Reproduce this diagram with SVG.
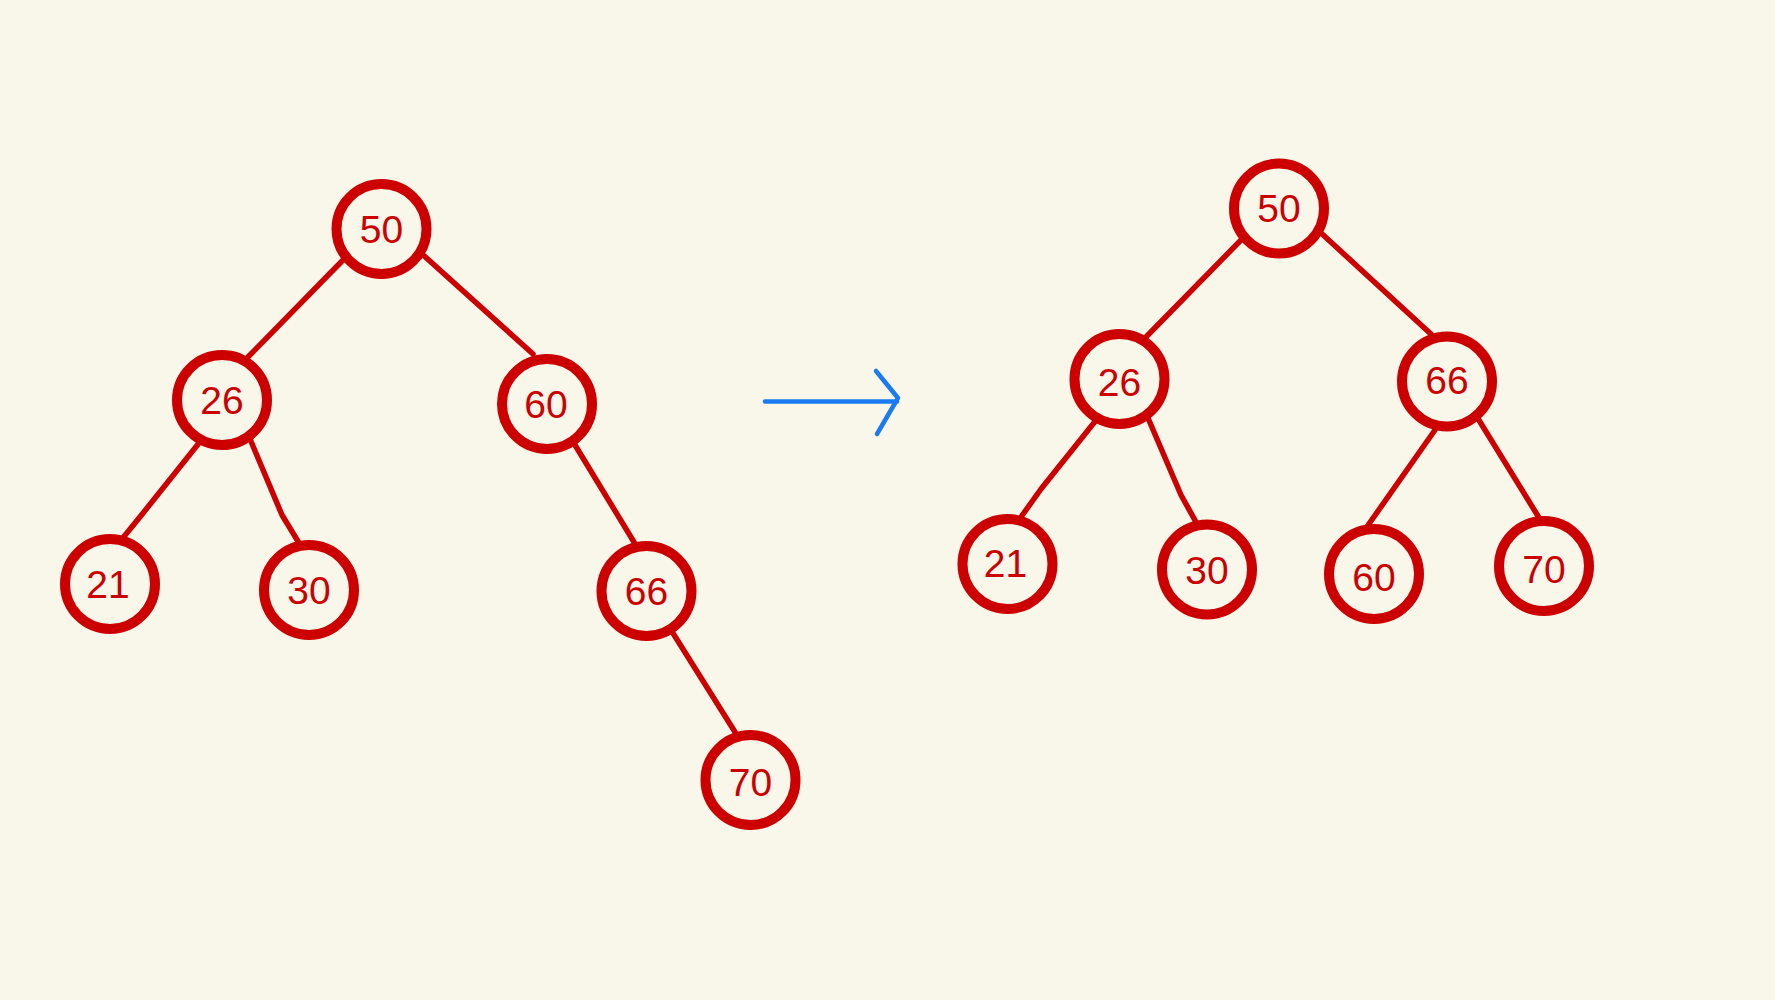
<svg xmlns="http://www.w3.org/2000/svg" width="1775" height="1000" viewBox="0 0 1775 1000">
<style>
.bg{fill:#f9f6ea}
.node circle{fill:#f9f6ea;stroke:#cc0000;stroke-width:10}
.node text{fill:#cc0000;font-family:"Liberation Sans",Arial,sans-serif;font-size:39px;text-anchor:middle}
.edge{fill:none;stroke:#cc0000;stroke-width:5.5;stroke-linecap:round;stroke-linejoin:round}
.arrow{fill:none;stroke:#1a7cf0;stroke-width:4.5;stroke-linecap:round;stroke-linejoin:round}
</style>
<rect class="bg" x="0" y="0" width="1775" height="1000"/>
<g id="connectors">
<polyline class="edge" points="344,259 247,358"/>
<polyline class="edge" points="422,254 533,354"/>
<polyline class="edge" points="199,443 141.5,515 122,539"/>
<polyline class="edge" points="250,439 282,515 299,543"/>
<polyline class="edge" points="575,445 637,547"/>
<polyline class="edge" points="673.5,634 735,732"/>
<polyline class="edge" points="1242,239 1146,337"/>
<polyline class="edge" points="1321,233 1432,335"/>
<polyline class="edge" points="1097,419 1041,489 1021,517"/>
<polyline class="edge" points="1148,418 1181,495 1196.5,523"/>
<polyline class="edge" points="1435,430 1367.5,526"/>
<polyline class="edge" points="1477,417 1539.5,518.5"/>
<g id="transform-arrow">
<line class="arrow" x1="765" y1="401.5" x2="897" y2="401.5"/>
<polyline class="arrow" points="876,371 898,398 877,434"/>
</g>
</g>
<g id="left-50" class="node"><circle cx="381.5" cy="229" r="45"/><text x="381.5" y="243">50</text></g>
<g id="left-26" class="node"><circle cx="222" cy="400" r="45"/><text x="222" y="414">26</text></g>
<g id="left-60" class="node"><circle cx="547" cy="404" r="45"/><text x="546" y="418">60</text></g>
<g id="left-21" class="node"><circle cx="110" cy="584" r="45"/><text x="108" y="598">21</text></g>
<g id="left-30" class="node"><circle cx="309" cy="590" r="45"/><text x="309" y="604">30</text></g>
<g id="left-66" class="node"><circle cx="646.5" cy="591" r="45"/><text x="646.5" y="605">66</text></g>
<g id="left-70" class="node"><circle cx="750.5" cy="780" r="45"/><text x="750.5" y="796">70</text></g>
<g id="right-50" class="node"><circle cx="1279" cy="208.5" r="45"/><text x="1279" y="222">50</text></g>
<g id="right-26" class="node"><circle cx="1119.5" cy="379" r="45"/><text x="1119.5" y="396">26</text></g>
<g id="right-66" class="node"><circle cx="1447" cy="381.5" r="45"/><text x="1447" y="394">66</text></g>
<g id="right-21" class="node"><circle cx="1007.5" cy="564" r="45"/><text x="1005.5" y="577">21</text></g>
<g id="right-30" class="node"><circle cx="1207" cy="569.5" r="45"/><text x="1207" y="584">30</text></g>
<g id="right-60" class="node"><circle cx="1374" cy="574" r="45"/><text x="1374" y="591">60</text></g>
<g id="right-70" class="node"><circle cx="1544" cy="566" r="45"/><text x="1544" y="583">70</text></g>
</svg>
